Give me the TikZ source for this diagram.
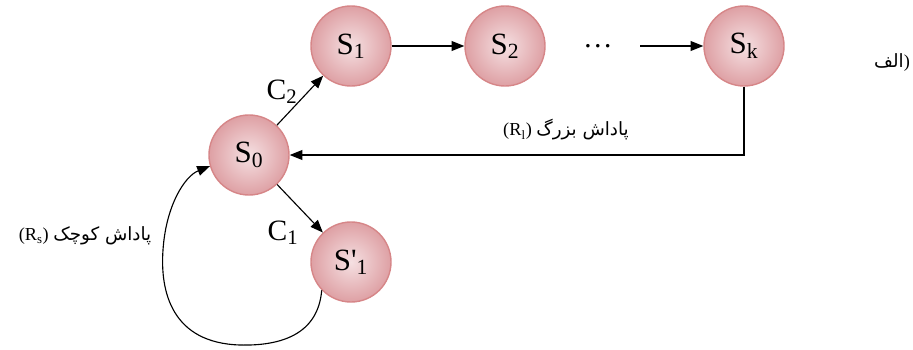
\documentclass[tikz,border=0pt]{standalone}
\usepackage{fontspec}
\setmainfont{Liberation Serif}
\newfontfamily\arabicfont[Script=Arabic]{DejaVu Sans}
\TeXXeTstate=1
\usepackage{xcolor}
\usepackage{tikz}
\usetikzlibrary{arrows.meta,positioning}

\definecolor{rim}{RGB}{214,134,136}
\definecolor{lite}{RGB}{245,224,226}
\definecolor{dark}{RGB}{222,160,164}
\newcommand\sbs[1]{\textsubscript{#1}}

\begin{document}
\begin{tikzpicture}[
  x=0.025cm, y=-0.025cm,
  st/.style={circle,draw=rim,line width=1pt,minimum size=2cm,inner sep=0pt,
    shading=radial,inner color=lite,outer color=dark,font=\fontsize{22}{24}\selectfont},
  lab/.style={font=\fontsize{21}{24}\selectfont},
  fa/.style={font=\fontsize{13}{16}\selectfont},
  arr/.style={-{Triangle[length=9pt,width=7pt]},line width=0.8pt}
]
\useasboundingbox (0,0) rectangle (913,349);

\node[st] (s0)  at (249,155) {S\sbs{0}};
\node[st] (s1)  at (351,46)  {S\sbs{1}};
\node[st] (s2)  at (505,46)  {S\sbs{2}};
\node[st] (sk)  at (744,46)  {S\sbs{k}};
\node[st] (s1p) at (351,262) {S\textquotesingle\sbs{1}};
\node[lab,minimum width=2.1cm,inner sep=0pt] (dots) at (598,46) {\dots};

\draw[arr] (s1) -- (s2);
\draw[arr] (dots.east) -- (sk);
\draw[arr] (s0) -- (s1);
\draw[arr] (s0) -- (s1p);
\draw[arr] (sk.south) |- (s0.east);
% loop back from S'1
\draw[arr] (s1p.224) .. controls (318,335) and (280,346) .. (240,345)
  .. controls (172,343) and (160,292) .. (163,250)
  .. controls (166,205) and (185,176) .. (s0.196);

\node[lab] (c2) at (282,92)  {C\sbs{2}};
\node[lab] (c1) at (283,233) {C\sbs{1}};
\node[fa] (rl) at (566,130) {(R\sbs{l}) {\arabicfont\beginR پاداش بزرگ\endR}};
\node[fa] (rs) at (85,236)  {(R\sbs{s}) {\arabicfont\beginR پاداش کوچک\endR}};
\node[fa] (alef) at (892,62) {{\arabicfont\beginR الف\endR})};
\end{tikzpicture}
\end{document}
